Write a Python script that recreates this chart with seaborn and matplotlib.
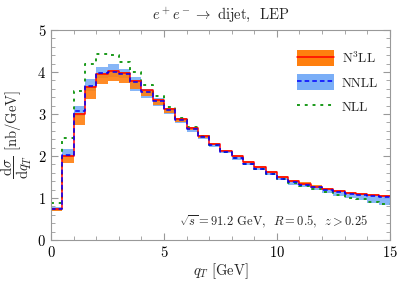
import numpy as np
import pandas as pd
import seaborn as sns
import matplotlib.pyplot as plt
from matplotlib.patches import Patch
from matplotlib.lines import Line2D

# bin edges in q_T [GeV]
edges = [0.0, 0.5, 1.0, 1.5, 2.0, 2.5, 3.0, 3.5, 4.0, 4.5, 5.0, 5.5, 6.0, 6.5, 7.0, 7.5,
         8.0, 8.5, 9.0, 9.5, 10.0, 10.5, 11.0, 11.5, 12.0, 12.5, 13.0, 13.5, 14.0, 14.5, 15.0]

# N3LL central and band
n3ll = [0.74, 2.00, 3.00, 3.64, 3.95, 4.02, 3.97, 3.79, 3.56, 3.33, 3.12, 2.89, 2.67, 2.48, 2.29,
        2.13, 1.99, 1.85, 1.73, 1.61, 1.49, 1.40, 1.34, 1.27, 1.21, 1.17, 1.12, 1.09, 1.06, 1.04]
n3ll_lo = [0.68, 1.83, 2.74, 3.36, 3.71, 3.79, 3.74, 3.60, 3.42, 3.22, 3.03, 2.82, 2.62, 2.44, 2.27,
           2.11, 1.97, 1.83, 1.71, 1.59, 1.47, 1.38, 1.32, 1.25, 1.19, 1.15, 1.10, 1.07, 1.04, 1.02]
n3ll_hi = [0.76, 2.02, 3.02, 3.66, 3.97, 4.04, 3.99, 3.81, 3.58, 3.35, 3.14, 2.91, 2.69, 2.50, 2.31,
           2.15, 2.02, 1.88, 1.76, 1.64, 1.52, 1.43, 1.37, 1.30, 1.24, 1.20, 1.15, 1.12, 1.09, 1.07]

# NNLL central and band
nnll = [0.74, 2.03, 3.07, 3.67, 3.97, 4.00, 3.95, 3.76, 3.52, 3.31, 3.09, 2.86, 2.64, 2.45, 2.26,
        2.10, 1.95, 1.82, 1.70, 1.58, 1.46, 1.37, 1.31, 1.25, 1.19, 1.15, 1.10, 1.07, 1.04, 1.02]
nnll_lo = [0.70, 1.98, 2.95, 3.55, 3.85, 3.88, 3.85, 3.55, 3.37, 3.19, 2.99, 2.78, 2.58, 2.40, 2.22,
           2.06, 1.91, 1.78, 1.66, 1.54, 1.42, 1.32, 1.25, 1.18, 1.11, 1.05, 0.99, 0.94, 0.88, 0.83]
nnll_hi = [0.78, 2.17, 3.19, 3.83, 4.12, 4.19, 4.07, 3.88, 3.60, 3.38, 3.15, 2.91, 2.69, 2.50, 2.30,
           2.14, 1.99, 1.86, 1.73, 1.61, 1.49, 1.40, 1.34, 1.27, 1.21, 1.17, 1.12, 1.09, 1.06, 1.04]

# NLL central
nll = [0.88, 2.43, 3.55, 4.19, 4.43, 4.41, 4.24, 4.00, 3.69, 3.43, 3.17, 2.91, 2.68, 2.47, 2.27,
       2.10, 1.95, 1.82, 1.70, 1.58, 1.46, 1.36, 1.29, 1.21, 1.14, 1.08, 1.01, 0.97, 0.90, 0.86]

c_orange = '#ff7f0e'
c_blue = '#7aaef7'

sns.set_theme(style="ticks")
plt.rcParams['font.family'] = 'serif'
plt.rcParams['font.serif'] = ['cmr10', 'DejaVu Serif']
plt.rcParams['mathtext.fontset'] = 'cm'
plt.rcParams['axes.formatter.use_mathtext'] = True


def stepped(vals):
    # repeat last value so the step reaches the last edge
    return pd.DataFrame({'x': edges, 'y': list(vals) + [vals[-1]]})


fig = plt.figure(figsize=(3.99, 2.86), dpi=100)
ax = fig.add_axes([0.128, 0.161, 0.849, 0.734])

ax.fill_between(edges, list(nnll_lo) + [nnll_lo[-1]], list(nnll_hi) + [nnll_hi[-1]],
                step='post', color=c_blue, alpha=0.9, lw=0)
ax.fill_between(edges, list(n3ll_lo) + [n3ll_lo[-1]], list(n3ll_hi) + [n3ll_hi[-1]],
                step='post', color=c_orange, alpha=0.9, lw=0)

sns.lineplot(data=stepped(nll), x='x', y='y', drawstyle='steps-post', color='#1a9a1a',
             linestyle=(0, (1.5, 2.5)), lw=1.4, ax=ax)
sns.lineplot(data=stepped(n3ll), x='x', y='y', drawstyle='steps-post', color='red', lw=1.1, ax=ax)
sns.lineplot(data=stepped(nnll), x='x', y='y', drawstyle='steps-post', color='blue',
             linestyle=(0, (3, 2)), lw=1.1, ax=ax)

ax.set_xlim(0, 15)
ax.set_ylim(0, 5)
ax.set_xticks([0, 5, 10, 15])
ax.set_xticks(range(0, 16), minor=True)
ax.set_yticks([0, 1, 2, 3, 4, 5])
ax.set_yticks(np.arange(0, 5.01, 0.2), minor=True)
ax.tick_params(which='both', direction='in', top=True, right=True, colors='#999999',
               labelcolor='black', labelsize=10.5)
ax.tick_params(which='major', length=5, width=0.8)
ax.tick_params(which='minor', length=3, width=0.6)
for s in ax.spines.values():
    s.set_color('#999999')
    s.set_linewidth(0.8)

ax.set_xlabel(r'$q_T$ [GeV]', fontsize=10.5, labelpad=1)
ax.set_ylabel(r'$\dfrac{\mathrm{d}\sigma}{\mathrm{d}q_T}$ [nb/GeV]', fontsize=10.5, labelpad=2)
ax.set_title(r'$e^+e^-\to$ dijet,  LEP', fontsize=10.5, pad=8)

ax.text(14.05, 0.43, r'$\sqrt{s}=91.2$ GeV,  $R=0.5$,  $z>0.25$', ha='right', va='center', fontsize=9)

handles = [
    (Patch(color=c_orange, lw=0), Line2D([], [], color='red', lw=1.1)),
    (Patch(color=c_blue, lw=0), Line2D([], [], color='blue', lw=1.1, linestyle=(0, (3, 2)))),
    Line2D([], [], color='#1a9a1a', lw=1.4, linestyle=(0, (1.5, 2.5))),
]
ax.legend(handles, [r'N$^3$LL', 'NNLL', 'NLL'], loc='upper right', frameon=False, fontsize=9.5,
          handlelength=2.8, handleheight=1.5, labelspacing=0.6, handletextpad=0.6,
          bbox_to_anchor=(1.0, 0.96))

fig.savefig('out.png', dpi=100)
